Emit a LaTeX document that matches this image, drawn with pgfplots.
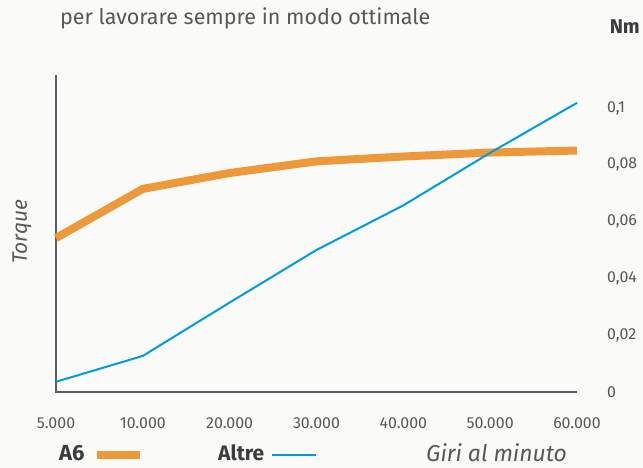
\documentclass[border=0pt]{standalone}
\usepackage{pgfplots}
\pgfplotsset{compat=1.18}
\usepackage{fontspec}
\setmainfont{Fira Sans}
\definecolor{bg}{RGB}{250,250,248}
\definecolor{org}{RGB}{237,153,58}
\definecolor{blu}{RGB}{0,157,222}
\definecolor{axc}{RGB}{92,96,100}
\definecolor{txt}{RGB}{88,88,88}
\definecolor{dtxt}{RGB}{60,60,60}
\begin{document}
\begin{tikzpicture}[x=1bp,y=1bp]
\useasboundingbox (-56,-76) rectangle (587,392);
\fill[bg] (-56,-76) rectangle (587,392);
\begin{axis}[
  at={(0,0)}, anchor=south west,
  scale only axis, width=521bp, height=317bp,
  xmin=0, xmax=6, ymin=0, ymax=0.1116,
  clip=false,
  axis line style={draw=none},
  major tick length=0pt,
  xtick={0,1,2,3,4,5,6},
  xticklabels={5.000,10.000,20.000,30.000,40.000,50.000,60.000},
  ytick={0,0.02,0.04,0.06,0.08,0.1},
  yticklabels={0,{0,02},{0,04},{0,06},{0,08},{0,1}},
  yticklabel pos=right,
  ticklabel style={text=txt, font=\fontsize{16}{19}\selectfont, inner sep=0pt},
  yticklabel style={anchor=west, xshift=30bp},
  xticklabel style={anchor=center, yshift=-31bp},
  /pgf/number format/assume math mode=true,
]
\draw[axc, line width=2.2bp] (rel axis cs:0,1) -- (rel axis cs:0,0) -- (rel axis cs:1,0);
\addplot[org, line width=8bp, line join=miter] coordinates {
  (0,0.0542) (1,0.0715) (2,0.0771) (3,0.0812) (4,0.0829) (5,0.0843) (6,0.0850)};
\addplot[blu, line width=2bp] coordinates {
  (0,0.0036) (1,0.0127) (2,0.0315) (3,0.0500) (4,0.0657) (5,0.0842) (6,0.1018)};
\end{axis}
\node[anchor=west, text=txt, font=\fontsize{21.6}{26}\selectfont, inner sep=0pt] at (4,374) {per lavorare sempre in modo ottimale};
\node[anchor=east, text=dtxt, font=\bfseries\fontsize{20}{24}\selectfont, inner sep=0pt] at (584,365) {Nm};
\node[rotate=90, text=txt, font=\itshape\fontsize{21}{25}\selectfont] at (-34,160) {Torque};
\node[anchor=west, text=dtxt, font=\bfseries\fontsize{22}{26}\selectfont, inner sep=0pt] at (3,-61) {A6};
\draw[org, line width=8bp] (41,-63) -- (84,-63);
\node[anchor=west, text=dtxt, font=\bfseries\fontsize{21}{25}\selectfont, inner sep=0pt] at (162,-61) {Altre};
\draw[blu, line width=2bp] (216,-63) -- (260,-63);
\node[anchor=west, text=txt, font=\itshape\fontsize{23}{27}\selectfont, inner sep=0pt] at (370,-61) {Giri al minuto};
\end{tikzpicture}
\end{document}
